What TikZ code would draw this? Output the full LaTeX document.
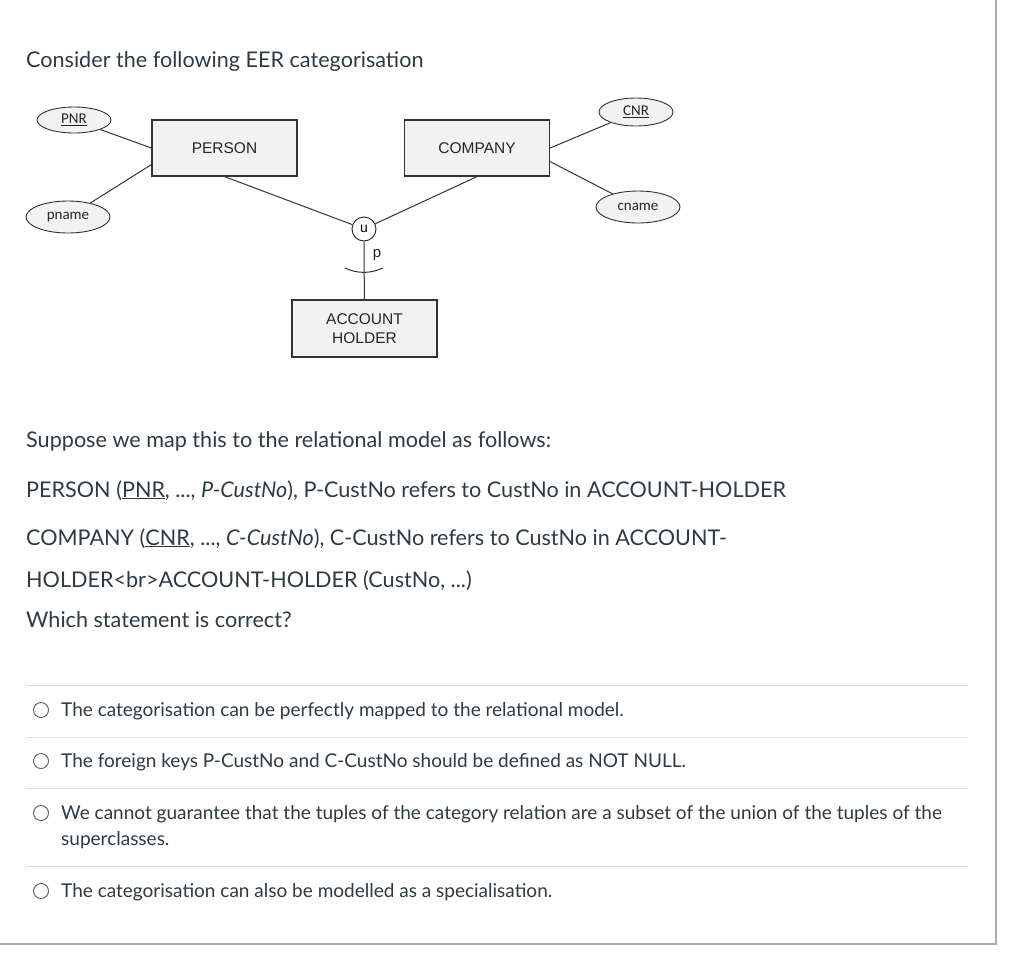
\documentclass[tikz,border=0pt]{standalone}
\usepackage{fontspec}
\setmainfont{Lato}
\newfontfamily\arialfont{Liberation Sans}
\newfontfamily\calibrifont{Carlito}
\usetikzlibrary{shapes}
\definecolor{canvastext}{HTML}{2D3B45}
\definecolor{erline}{HTML}{333333}
\definecolor{erfill}{HTML}{F2F2F2}
\definecolor{sepline}{HTML}{DDDDDD}
\definecolor{frameline}{HTML}{AAAAAA}
\tikzset{
    entity/.style={draw=erline, fill=erfill, line width=1.2pt, rectangle, minimum width=145pt, minimum height=56pt, align=center, font=\arialfont\fontsize{15.5}{19}\selectfont, text=black!85},
    attrib/.style={draw=erline, fill=erfill, line width=0.9pt, ellipse, inner sep=0pt, font=\calibrifont\fontsize{15}{18}\selectfont, text=black!85},
    erlink/.style={draw=erline, line width=1pt},
    bodytext/.style={anchor=base west, inner sep=0pt, text=canvastext, font=\fontsize{21.6}{26}\selectfont},
    answer/.style={anchor=base west, inner sep=0pt, text=canvastext, font=\fontsize{19}{23}\selectfont},
    radio/.style={draw=black!60, line width=1pt, circle, minimum size=15pt, inner sep=0pt},
}

\begin{document}
\begin{tikzpicture}[x=1pt, y=-1pt]
    \useasboundingbox[fill=white] (0, 0) rectangle (1024, 956);
    \draw[frameline, line width=1.5pt] (0, 944)--(996, 944)--(996, 0);

    \node[bodytext] (title) at(26, 67) {Consider the following EER categorisation};

    % EER diagram
    \node[entity] (person) at(224.5, 148) {PERSON};
    \node[entity] (company) at(477, 148) {COMPANY};
    \node[entity, minimum height=57pt] (acc) at(364.5, 328.5) {ACCOUNT\\HOLDER};
    \node[attrib, minimum width=74pt, minimum height=26pt] (pnr) at(74, 120) {\underline{PNR}};
    \node[attrib, minimum width=84pt, minimum height=32pt] (pname) at(68, 217) {pname};
    \node[attrib, minimum width=74pt, minimum height=28pt] (cnr) at(636, 112) {\underline{CNR}};
    \node[attrib, minimum width=84pt, minimum height=32pt] (cname) at(638, 207) {cname};
    \node[draw=erline, line width=1pt, circle, minimum size=24pt, inner sep=0pt, font=\arialfont\fontsize{14}{16}\selectfont] (u) at(364, 229) {u};
    \node[font=\arialfont\fontsize{15}{18}\selectfont, text=black!85] (p) at(377, 255) {p};

    \draw[erlink] (pnr)--(person.west);
    \draw[erlink] (pname)--([yshift=12pt]person.south west);
    \draw[erlink] (cnr)--(company.east);
    \draw[erlink] (cname)--([yshift=15pt]company.south east);
    \draw[erlink] (person.south)--(u);
    \draw[erlink] (company.south)--(u);
    \draw[erlink] (u)--(acc);
    \draw[erlink] ([shift={(-19pt,-39pt)}]u.center) arc[start angle=244, end angle=296, radius=43pt];

    % question text
    \node[bodytext] (t1) at(26, 447) {Suppose we map this to the relational model as follows:};
    \node[bodytext] (t2) at(26, 497) {PERSON (\underline{PNR}, ..., \textit{P-CustNo}), P-CustNo refers to CustNo in ACCOUNT-HOLDER};
    \node[bodytext] (t3) at(26, 545) {COMPANY (\underline{CNR}, ..., \textit{C-CustNo}), C-CustNo refers to CustNo in ACCOUNT-};
    \node[bodytext] (t4) at(26, 587) {HOLDER<br>ACCOUNT-HOLDER (CustNo, ...)};
    \node[bodytext] (t5) at(26, 627) {Which statement is correct?};

    % answers
    \foreach \y in {685, 737, 788, 866}
        \draw[sepline, line width=1pt] (26, \y)--(968, \y);
    \foreach \y/\n in {710/1, 761/2, 813/3, 891/4}
        \node[radio] (r\n) at(41, \y) {};
    \node[answer] (a1) at(61, 716) {The categorisation can be perfectly mapped to the relational model.};
    \node[answer] (a2) at(61, 767) {The foreign keys P-CustNo and C-CustNo should be defined as NOT NULL.};
    \node[answer] (a3) at(61, 819) {We cannot guarantee that the tuples of the category relation are a subset of the union of the tuples of the};
    \node[answer] (a3b) at(61, 845) {superclasses.};
    \node[answer] (a4) at(61, 897) {The categorisation can also be modelled as a specialisation.};
\end{tikzpicture}
\end{document}
